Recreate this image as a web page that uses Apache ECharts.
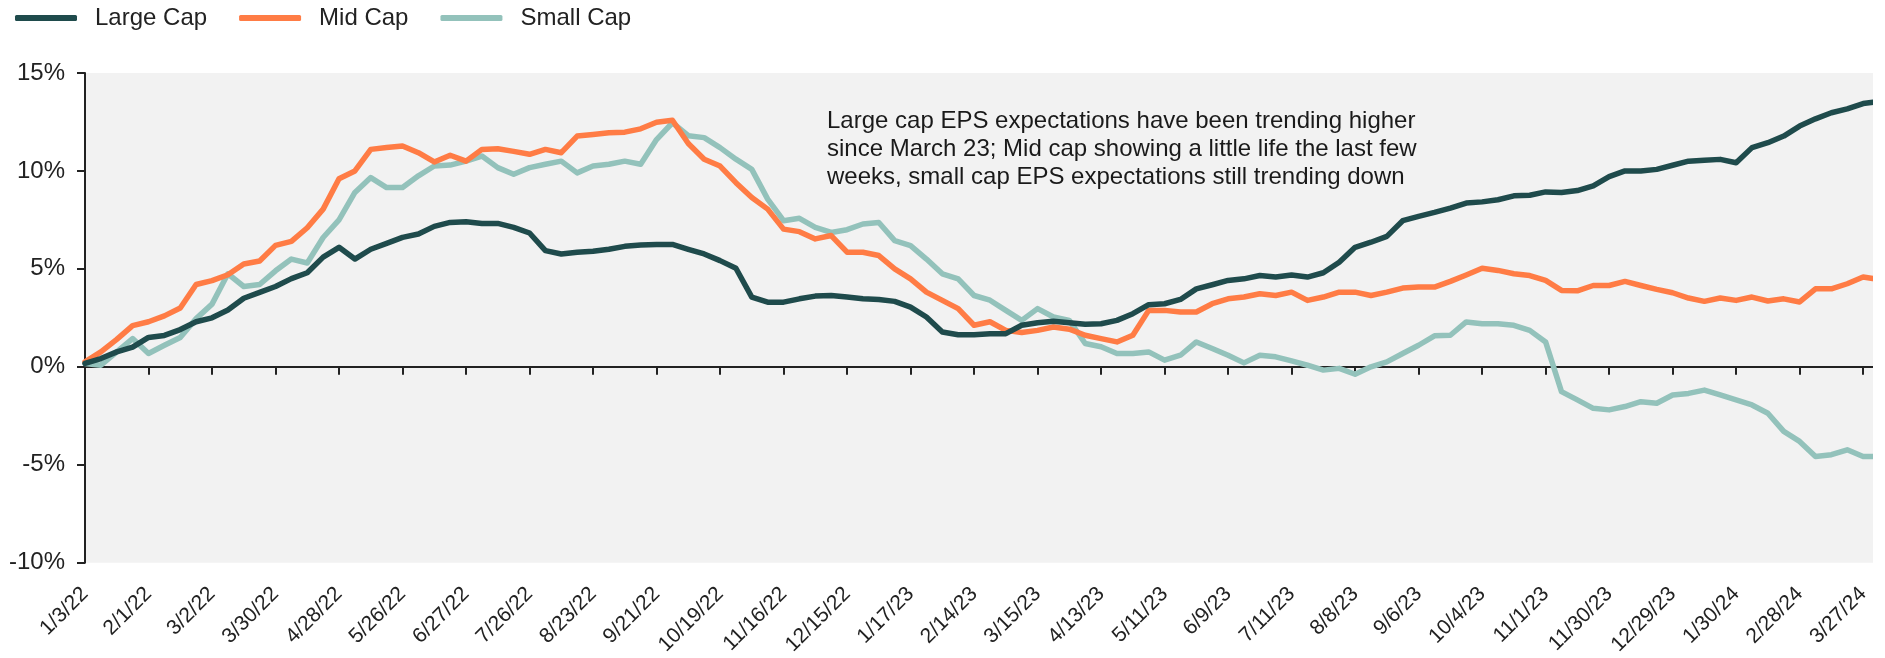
<!DOCTYPE html>
<html>
<head>
<meta charset="utf-8">
<script src="https://cdn.jsdelivr.net/npm/echarts@6/dist/echarts.min.js"></script>
<style>
  html, body { margin: 0; padding: 0; background: #ffffff; }
  #chart { width: 1885px; height: 658px; }
</style>
</head>
<body>
<div id="chart"></div>
<script>
// Tick labels: every 20 trading days (one label every 4 weekly samples)
const dateLabels = ['1/3/22','2/1/22','3/2/22','3/30/22','4/28/22','5/26/22','6/27/22','7/26/22','8/23/22','9/21/22','10/19/22','11/16/22','12/15/22','1/17/23','2/14/23','3/15/23','4/13/23','5/11/23','6/9/23','7/11/23','8/8/23','9/6/23','10/4/23','11/1/23','11/30/23','12/29/23','1/30/24','2/28/24','3/27/24'];

// Values read every 5 trading days (%)
const largeCap = [0.17,0.42,0.76,1.0,1.5,1.6,1.9,2.3,2.5,2.9,3.5,3.8,4.1,4.5,4.8,5.6,6.1,5.5,6.0,6.3,
  6.61,6.78,7.17,7.37,7.4,7.32,7.32,7.12,6.83,5.93,5.76,5.85,5.9,6.0,6.15,6.22,6.24,6.25,
  6.0,5.76,5.42,5.03,3.56,3.3,3.3,3.47,3.61,3.64,3.56,3.47,3.44,3.34,3.05,2.54,1.78,1.64,1.64,
  1.69,1.69,2.12,2.25,2.32,2.25,2.17,2.2,2.37,2.71,3.17,3.22,3.44,3.98,4.19,4.41,4.49,4.66,4.58,
  4.69,4.58,4.8,5.34,6.1,6.36,6.66,7.46,7.68,7.88,8.1,8.36,8.42,8.53,8.73,8.76,8.93,8.9,
  9.0,9.24,9.71,10.0,10.0,10.08,10.29,10.5,10.54,10.59,10.42,11.19,11.44,11.78,12.29,12.66,12.97,13.17,13.44,13.54];
const midCap = [0.25,0.76,1.4,2.1,2.3,2.6,3.0,4.2,4.4,4.7,5.25,5.4,6.2,6.4,7.1,8.05,9.6,10.0,11.1,11.2,
  11.27,10.93,10.46,10.8,10.5,11.1,11.13,11.0,10.85,11.1,10.93,11.78,11.86,11.95,11.98,12.15,12.49,12.59,
  11.4,10.6,10.25,9.4,8.64,8.05,7.03,6.9,6.53,6.7,5.85,5.85,5.68,5.0,4.49,3.81,3.39,2.97,2.12,
  2.3,1.86,1.75,1.86,2.03,1.92,1.61,1.44,1.27,1.61,2.88,2.88,2.8,2.8,3.22,3.47,3.56,3.73,3.64,
  3.81,3.39,3.56,3.81,3.81,3.64,3.81,4.02,4.07,4.07,4.36,4.69,5.03,4.92,4.75,4.66,4.41,3.9,
  3.88,4.15,4.15,4.36,4.15,3.95,3.78,3.51,3.34,3.51,3.39,3.56,3.36,3.47,3.31,3.98,3.98,4.24,4.58,4.46];
const smallCap = [0.17,0.08,0.76,1.44,0.68,1.1,1.5,2.46,3.2,4.75,4.1,4.2,4.9,5.5,5.3,6.6,7.5,8.9,9.66,9.15,
  9.15,9.75,10.25,10.3,10.5,10.76,10.17,9.83,10.17,10.34,10.5,9.9,10.25,10.34,10.5,10.34,11.6,12.46,
  11.8,11.7,11.19,10.6,10.08,8.56,7.46,7.58,7.12,6.86,7.0,7.29,7.37,6.44,6.19,5.5,4.75,4.49,3.64,
  3.4,2.88,2.37,2.97,2.54,2.37,1.19,1.02,0.68,0.68,0.76,0.34,0.59,1.27,0.93,0.59,0.2,0.59,0.51,
  0.3,0.08,-0.17,-0.08,-0.38,0,0.25,0.68,1.1,1.58,1.61,2.29,2.2,2.2,2.12,1.86,1.27,-1.27,
  -1.69,-2.12,-2.2,-2.03,-1.78,-1.86,-1.44,-1.36,-1.19,-1.44,-1.69,-1.95,-2.37,-3.3,-3.81,-4.58,-4.49,-4.24,-4.58,-4.58];

const seriesNames = ['Large Cap', 'Mid Cap', 'Small Cap'];
const seriesColors = ['#1F4B4C', '#FF7C45', '#93C2BB'];
const annotation = 'Large cap EPS expectations have been trending higher\nsince March 23; Mid cap showing a little life the last few\nweeks, small cap EPS expectations still trending down';

const samplesPerLabel = 4;
const categories = largeCap.map((_, i) => String(i));
const FONT = "'Liberation Sans', Arial, sans-serif";

const chart = echarts.init(document.getElementById('chart'), null, { renderer: 'canvas' });
chart.setOption({
  animation: false,
  backgroundColor: '#ffffff',
  textStyle: { fontFamily: FONT },
  legend: {
    left: 15, top: 6, padding: 0,
    icon: 'roundRect',
    itemWidth: 62, itemHeight: 6, itemGap: 32,
    textStyle: { fontSize: 24, color: '#222222', fontFamily: FONT, padding: [0, 0, 0, 13] },
    data: seriesNames
  },
  grid: {
    left: 85, right: 6, top: 73, bottom: 93,
    show: true, backgroundColor: '#F2F2F2', borderWidth: 0
  },
  xAxis: [
    {
      type: 'category', data: categories, boundaryGap: false, position: 'bottom',
      axisLine: { show: false, onZero: false },
      axisTick: { show: false },
      splitLine: { show: false },
      axisLabel: {
        interval: samplesPerLabel - 1, rotate: 45, margin: 28,
        fontSize: 21, color: '#222222', fontFamily: FONT,
        formatter: (v, i) => (i % samplesPerLabel === 0 ? (dateLabels[i / samplesPerLabel] || '') : '')
      }
    },
    {
      type: 'category', data: categories, boundaryGap: false, position: 'bottom',
      axisLine: { show: true, onZero: true, lineStyle: { color: '#222222', width: 2 } },
      axisTick: { show: true, interval: samplesPerLabel - 1, length: 8, lineStyle: { color: '#222222', width: 2 } },
      axisLabel: { show: false },
      splitLine: { show: false }
    }
  ],
  yAxis: {
    type: 'value', min: -10, max: 15, interval: 5,
    axisLine: { show: true, onZero: false, lineStyle: { color: '#222222', width: 2 } },
    axisTick: { show: true, length: 8, lineStyle: { color: '#222222', width: 2 } },
    splitLine: { show: false },
    axisLabel: { formatter: '{value}%', fontSize: 24, color: '#222222', margin: 20, fontFamily: FONT }
  },
  graphic: [
    {
      type: 'text', left: 827, top: 107, z: 10,
      style: { text: annotation, font: "24px 'Liberation Sans', Arial, sans-serif", fill: '#1a1a1a', lineHeight: 28 }
    },
    {
      // white margin to the right of the plotting area (series end there)
      type: 'rect', right: 0, top: 60, z: 100,
      shape: { width: 12, height: 520 },
      style: { fill: '#ffffff' }
    }
  ],
  series: [largeCap, midCap, smallCap].map((d, k) => ({
    name: seriesNames[k], type: 'line', data: d, xAxisIndex: 0,
    symbol: 'none', smooth: false,
    color: seriesColors[k],
    lineStyle: { width: 5.5, color: seriesColors[k], cap: 'round', join: 'round' },
    z: 3 + (2 - k)
  }))
});
</script>
</body>
</html>
